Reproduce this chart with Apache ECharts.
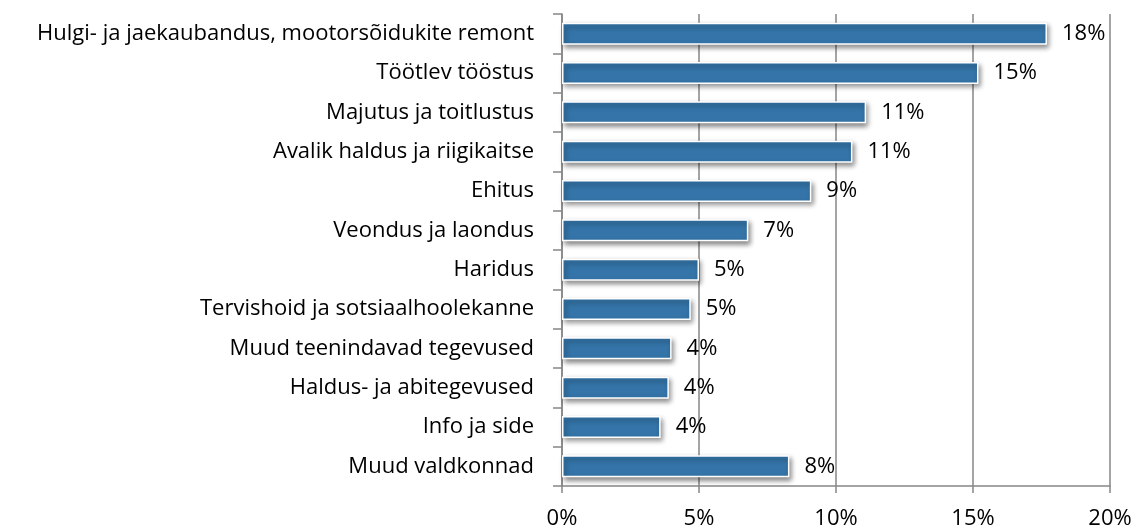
<!DOCTYPE html>
<html>
<head>
<meta charset="utf-8">
<script src="https://cdn.jsdelivr.net/npm/echarts@6/dist/echarts.min.js"></script>
<style>
  html, body { margin: 0; padding: 0; background: #fff; }
  #chart { width: 1143px; height: 530px; }
</style>
</head>
<body>
<div id="chart"></div>
<script>
// Sectors, top to bottom
const categories = [
  'Hulgi- ja jaekaubandus, mootorsõidukite remont',
  'Töötlev tööstus',
  'Majutus ja toitlustus',
  'Avalik haldus ja riigikaitse',
  'Ehitus',
  'Veondus ja laondus',
  'Haridus',
  'Tervishoid ja sotsiaalhoolekanne',
  'Muud teenindavad tegevused',
  'Haldus- ja abitegevused',
  'Info ja side',
  'Muud valdkonnad'
];
// Share of employed, %
const shares = [17.7, 15.2, 11.1, 10.6, 9.1, 6.8, 5.0, 4.7, 4.0, 3.9, 3.6, 8.3];
// Value axis ticks, %
const xTicks = [0, 5, 10, 15, 20];

const FONT = '"Open Sans", "Liberation Sans", sans-serif';
const chart = echarts.init(document.getElementById('chart'), null, { renderer: 'canvas' });

chart.setOption({
  animation: false,
  backgroundColor: '#ffffff',
  grid: { left: 562, right: 33, top: 14, bottom: 44, containLabel: false },
  xAxis: {
    type: 'value',
    min: xTicks[0],
    max: xTicks[xTicks.length - 1],
    interval: xTicks[1] - xTicks[0],
    axisLine: { show: true, lineStyle: { color: '#868686', width: 1.5 } },
    axisTick: { show: true, length: 7, lineStyle: { color: '#868686', width: 1.5 } },
    splitLine: { show: true, lineStyle: { color: '#868686', width: 1.5 } },
    axisLabel: {
      formatter: v => v + '%',
      color: '#000',
      fontFamily: FONT,
      fontSize: 22,
      margin: 22
    }
  },
  yAxis: {
    type: 'category',
    inverse: true,
    data: categories,
    axisLine: { show: true, lineStyle: { color: '#868686', width: 1.5 } },
    axisTick: { show: true, length: 9, lineStyle: { color: '#868686', width: 1.5 } },
    axisLabel: {
      color: '#000',
      fontFamily: FONT,
      fontSize: 22,
      margin: 28
    }
  },
  series: [{
    type: 'bar',
    data: shares,
    barCategoryGap: '44%',
    itemStyle: {
      color: '#3474A8',
      borderColor: '#ffffff',
      borderWidth: 1.5,
      shadowColor: 'rgba(0,0,0,0.45)',
      shadowBlur: 5,
      shadowOffsetX: 2,
      shadowOffsetY: 3
    },
    label: {
      show: true,
      position: 'right',
      distance: 15,
      formatter: p => Math.round(p.value) + '%',
      color: '#000',
      fontFamily: FONT,
      fontSize: 22
    }
  }]
});
</script>
</body>
</html>
